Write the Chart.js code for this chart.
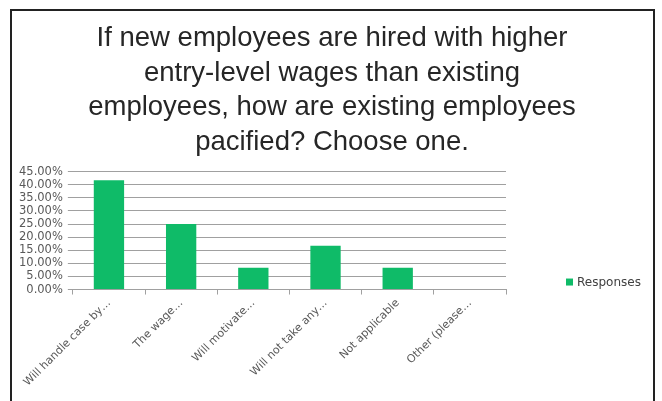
<!DOCTYPE html>
<html>
<head>
<meta charset="utf-8">
<script src="https://cdn.jsdelivr.net/npm/chart.js@4"></script>
<style>
  body { margin: 0; background: #fff; }
  #wrap { position: relative; width: 662px; height: 401px; overflow: hidden; }
  #frame { position: absolute; left: 10px; top: 9px; width: 641px; height: 420px; border: 2px solid #222; }
  canvas { position: absolute; left: 0; top: 0; }
</style>
</head>
<body>
<div id="wrap">
  <canvas id="responses" width="662" height="401"></canvas>
  <div id="frame"></div>
</div>
<script>
const titleLines = [
  "If new employees are hired with higher",
  "entry-level wages than existing",
  "employees, how are existing employees",
  "pacified? Choose one.",
];
const categories = [
  "Will handle case by\u2026",
  "The wage\u2026",
  "Will motivate\u2026",
  "Will not take any\u2026",
  "Not applicable",
  "Other (please\u2026",
];
const responses = [0.4167, 0.25, 0.0833, 0.1667, 0.0833, 0];
const seriesName = "Responses";
const barColor = "#0fbb68";
const gridColor = "#a0a0a0";
const tickColor = "#595959";

// legend sits in the empty column right of the plot, near its bottom
const sideLegend = {
  id: "sideLegend",
  afterDraw(chart) {
    const { ctx, chartArea } = chart;
    const ds = chart.data.datasets[0];
    const x = chartArea.right + 60;
    const y = chartArea.bottom - 7;
    ctx.save();
    ctx.fillStyle = ds.backgroundColor;
    ctx.fillRect(x, y - 4, 7, 7);
    ctx.fillStyle = "#404040";
    ctx.font = "12px 'DejaVu Sans'";
    ctx.textBaseline = "middle";
    ctx.fillText(ds.label, x + 11, y);
    ctx.restore();
  },
};

document.addEventListener("DOMContentLoaded", () => {
  const ctx = document.getElementById("responses").getContext("2d");

  new Chart(ctx, {
    type: "bar",
    data: {
      labels: categories,
      datasets: [
        {
          label: seriesName,
          data: responses,
          backgroundColor: barColor,
          borderWidth: 0,
          categoryPercentage: 1,
          barPercentage: 0.42,
        },
      ],
    },
    plugins: [sideLegend],
    options: {
      responsive: false,
      animation: false,
      layout: {
        padding: { left: 14, right: 12, top: 11, bottom: 10 },
      },
      plugins: {
        legend: { display: false },
        tooltip: { enabled: false },
        title: {
          display: true,
          text: titleLines,
          color: "#262626",
          font: { family: "'Liberation Sans', Arial, sans-serif", size: 27.5, weight: "normal", lineHeight: 1.26 },
          padding: { top: 10, bottom: 12 },
        },
      },
      scales: {
        y: {
          min: 0,
          max: 0.45,
          ticks: {
            stepSize: 0.05,
            autoSkip: false,
            color: tickColor,
            padding: 5,
            font: { family: "'DejaVu Sans'", size: 11.5, lineHeight: 1 },
            callback: (v) => (v * 100).toFixed(2) + "%",
          },
          grid: { color: gridColor, lineWidth: 1, tickLength: 5 },
          border: { display: false },
        },
        // empty column on the right that holds the legend
        side: {
          type: "linear",
          position: "right",
          display: true,
          grid: { display: false },
          ticks: { display: false },
          border: { display: false },
          afterFit: (scale) => {
            scale.width = 144;
          },
        },
        x: {
          ticks: {
            color: tickColor,
            minRotation: 45,
            maxRotation: 45,
            autoSkip: false,
            padding: 2,
            font: { family: "'DejaVu Sans'", size: 11 },
          },
          grid: { drawOnChartArea: false, color: gridColor, tickLength: 5, offset: true },
          border: { color: gridColor, width: 1 },
        },
      },
    },
  });
});
</script>
</body>
</html>
